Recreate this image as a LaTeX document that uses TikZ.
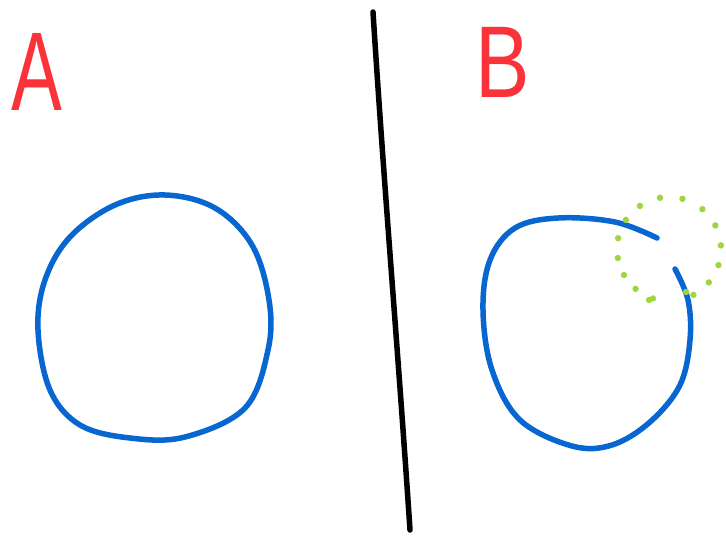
\documentclass[tikz,border=0pt]{standalone}
\usepackage{fontspec}
\setmainfont{Liberation Sans}
\definecolor{penblue}{RGB}{8,102,208}
\definecolor{penred}{RGB}{250,50,58}
\definecolor{pengreen}{RGB}{158,214,66}
\begin{document}
\begin{tikzpicture}[x=1pt,y=-1pt,
  stroke/.style={line width=5.5pt,line cap=round,line join=round},
  letter/.style={text=penred,inner sep=0pt},
  dot/.style={fill=pengreen,draw=none}]
\useasboundingbox (0,0) rectangle (726,536);
\fill[white] (0,0) rectangle (726,536);
% letters
\node[letter,anchor=center,xscale=0.68,font=\fontsize{112}{112}\selectfont] (A) at (37,72) {A};
\node[letter,anchor=center,xscale=0.8,font=\fontsize{102}{102}\selectfont] (B) at (503,62) {B};
% divider
\draw[stroke,black] (373,12) .. controls (385,200) and (398,350) .. (410,530);
% circle A
\draw[stroke,penblue] plot[smooth cycle,tension=0.6] coordinates
  {(165,195) (215,208) (252,245) (269,300) (268,350) (245,408) (185,437) (130,438) (80,425) (50,390) (38,330) (45,280) (70,237) (115,205)};
% circle B with gap
\draw[stroke,penblue] plot[smooth,tension=0.6] coordinates
  {(657,238) (615,222) (558,218) (515,228) (490,260) (483,310) (492,370) (520,420) (572,446) (612,445) (650,422) (680,385) (690,340) (688,300) (675,269)};
% green dotted circle
\foreach \a in {-100,-75,-50,-27,-4,18,40,62,108,130,150,170,192,214,236}
  \fill[dot] ({669+52*cos(\a)},{249+52*sin(\a)}) circle (3.2pt);
\fill[dot] (649,300) circle (3.2pt);
\fill[dot] (686,292) circle (3.2pt);
\end{tikzpicture}
\end{document}
